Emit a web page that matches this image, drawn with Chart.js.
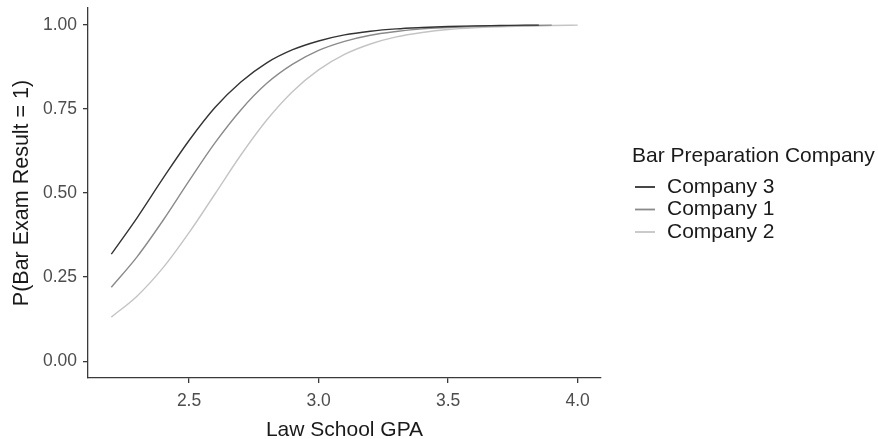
<!DOCTYPE html>
<html>
<head>
<meta charset="utf-8">
<script src="https://cdn.jsdelivr.net/npm/chart.js@4/dist/chart.umd.min.js"></script>
<style>
  html, body { margin: 0; padding: 0; background: #ffffff; }
  #wrap { position: relative; width: 878px; height: 439px; }
</style>
</head>
<body>
<div id="wrap"><canvas id="c" width="878" height="439"></canvas></div>
<script>
// ---- Data ----
const seriesNames = ["Company 3", "Company 1", "Company 2"];
const seriesColors = ["#333333", "#8a8a8a", "#c4c4c4"];

const gpaCompany3 = [2.2, 2.3, 2.4, 2.5, 2.6, 2.7, 2.8, 2.9, 3.0, 3.1, 3.2, 3.3, 3.4, 3.5, 3.6, 3.7, 3.8, 3.85];
const probCompany3 = [0.318, 0.427, 0.544, 0.656, 0.754, 0.830, 0.887, 0.926, 0.952, 0.970, 0.981, 0.988, 0.992, 0.995, 0.997, 0.998, 0.999, 0.999];

const gpaCompany1 = [2.2, 2.3, 2.4, 2.5, 2.6, 2.7, 2.8, 2.9, 3.0, 3.1, 3.2, 3.3, 3.4, 3.5, 3.6, 3.7, 3.8, 3.9];
const probCompany1 = [0.220, 0.311, 0.419, 0.536, 0.649, 0.747, 0.826, 0.883, 0.924, 0.951, 0.969, 0.980, 0.988, 0.992, 0.995, 0.997, 0.998, 0.999];

const gpaCompany2 = [2.2, 2.3, 2.4, 2.5, 2.6, 2.7, 2.8, 2.9, 3.0, 3.1, 3.2, 3.3, 3.4, 3.5, 3.6, 3.7, 3.8, 3.9, 4.0];
const probCompany2 = [0.131, 0.194, 0.278, 0.382, 0.497, 0.613, 0.717, 0.802, 0.866, 0.912, 0.943, 0.964, 0.977, 0.986, 0.991, 0.994, 0.996, 0.998, 0.999];

const xTicks = [2.5, 3.0, 3.5, 4.0];
const yTicks = [0.00, 0.25, 0.50, 0.75, 1.00];

const xTitle = "Law School GPA";
const yTitle = "P(Bar Exam Result = 1)";
const legendTitle = "Bar Preparation Company";

// ---- Build chart ----
const FONT = "'Liberation Sans', Arial, Helvetica, sans-serif";
function pts(xs, ys) { return xs.map((x, i) => ({ x: x, y: ys[i] })); }

const datasets = [
  { label: seriesNames[0], data: pts(gpaCompany3, probCompany3), borderColor: seriesColors[0] },
  { label: seriesNames[1], data: pts(gpaCompany1, probCompany1), borderColor: seriesColors[1] },
  { label: seriesNames[2], data: pts(gpaCompany2, probCompany2), borderColor: seriesColors[2] }
].map(d => Object.assign(d, {
  borderWidth: 1.4,
  pointRadius: 0,
  fill: false,
  cubicInterpolationMode: 'monotone'
}));

const legendPlugin = {
  id: 'ggLegend',
  afterDraw(chart) {
    const ctx = chart.ctx;
    ctx.save();
    ctx.font = "21px " + FONT;
    ctx.fillStyle = "#1a1a1a";
    ctx.textAlign = "left";
    ctx.textBaseline = "middle";
    ctx.fillText(legendTitle, 632, 156);
    const rowY = [187, 209.5, 232];
    chart.data.datasets.forEach((ds, i) => {
      ctx.strokeStyle = ds.borderColor;
      ctx.lineWidth = 1.8;
      ctx.beginPath();
      ctx.moveTo(635, rowY[i]);
      ctx.lineTo(655, rowY[i]);
      ctx.stroke();
      ctx.fillStyle = "#1a1a1a";
      ctx.fillText(ds.label, 667, rowY[i]);
    });
    ctx.restore();
  }
};

const chart = new Chart(document.getElementById('c'), {
  type: 'line',
  data: { datasets: datasets },
  plugins: [legendPlugin],
  options: {
    responsive: false,
    animation: false,
    devicePixelRatio: 1,
    layout: { padding: { left: 0, right: 277, top: 8, bottom: 0 } },
    plugins: { legend: { display: false }, tooltip: { enabled: false } },
    scales: {
      x: {
        type: 'linear',
        min: 2.11, max: 4.09,
        afterBuildTicks: s => { s.ticks = xTicks.map(v => ({ value: v })); },
        afterFit: s => { s.height = 61; s.paddingLeft = 0; s.paddingRight = 0; },
        ticks: {
          callback: v => Number(v).toFixed(1),
          font: { family: FONT, size: 17.5 },
          color: '#4d4d4d',
          padding: 8,
          maxRotation: 0
        },
        grid: { display: true, drawOnChartArea: false, drawTicks: true, tickLength: 5, color: '#3a3a3a', lineWidth: 1.3 },
        border: { display: true, color: '#3a3a3a', width: 1.3 },
        title: {
          display: true, text: xTitle,
          font: { family: FONT, size: 21, lineHeight: 0.8 },
          color: '#1a1a1a',
          padding: { top: 0, bottom: 0 }
        }
      },
      y: {
        type: 'linear',
        min: -0.05, max: 1.05,
        afterBuildTicks: s => { s.ticks = yTicks.map(v => ({ value: v })); },
        afterFit: s => { s.width = 88; s.paddingTop = 0; s.paddingBottom = 0; },
        ticks: {
          callback: v => Number(v).toFixed(2),
          font: { family: FONT, size: 17.5 },
          color: '#4d4d4d',
          padding: 6
        },
        grid: { display: true, drawOnChartArea: false, drawTicks: true, tickLength: 5, color: '#3a3a3a', lineWidth: 1.3 },
        border: { display: true, color: '#3a3a3a', width: 1.3 },
        title: {
          display: true, text: yTitle,
          font: { family: FONT, size: 21.5, lineHeight: 1 },
          color: '#1a1a1a',
          padding: { top: 11, bottom: 0 }
        }
      }
    }
  }
});
</script>
</body>
</html>
